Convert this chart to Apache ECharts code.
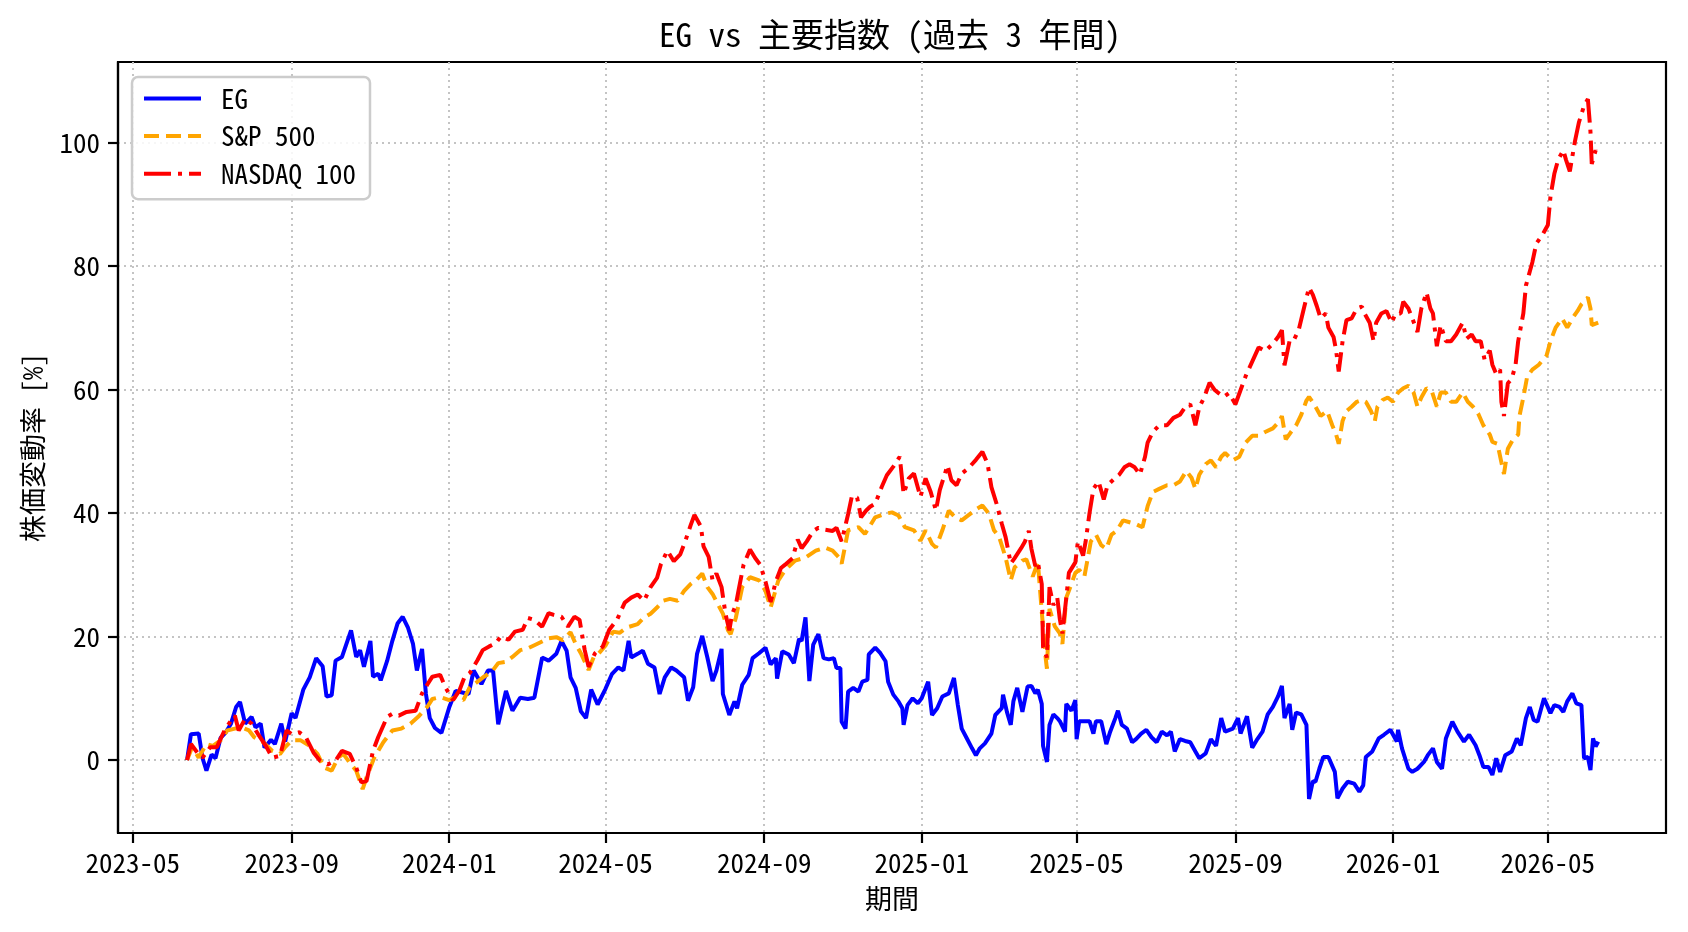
<!DOCTYPE html>
<html>
<head>
<meta charset="utf-8">
<title>EG vs 主要指数</title>
<script src="https://cdn.jsdelivr.net/npm/echarts@6.0.0/dist/echarts.min.js"></script>
<style>
  html, body { margin: 0; padding: 0; background: #fff; }
  #chart { width: 1688px; height: 932px; }
</style>
</head>
<body>
<div id="chart"></div>
<script>
  // 株価変動率 [%] (基準日からの累積)
  const egDates = [
    "2023-06-12","2023-06-15","2023-06-21","2023-06-24","2023-06-27","2023-07-01","2023-07-04","2023-07-08","2023-07-12","2023-07-16",
    "2023-07-20","2023-07-23","2023-07-27","2023-08-01","2023-08-04","2023-08-08","2023-08-11","2023-08-16","2023-08-19","2023-08-24",
    "2023-08-27","2023-09-01","2023-09-04","2023-09-10","2023-09-15","2023-09-20","2023-09-25","2023-09-28","2023-10-02","2023-10-05",
    "2023-10-10","2023-10-17","2023-10-21","2023-10-24","2023-10-27","2023-11-01","2023-11-03","2023-11-07","2023-11-09","2023-11-14",
    "2023-11-18","2023-11-22","2023-11-26","2023-11-30","2023-12-04","2023-12-07","2023-12-11","2023-12-14","2023-12-17","2023-12-21",
    "2023-12-26","2024-01-01","2024-01-06","2024-01-12","2024-01-16","2024-01-20","2024-01-26","2024-01-31","2024-02-04","2024-02-08",
    "2024-02-11","2024-02-14","2024-02-19","2024-02-25","2024-03-02","2024-03-07","2024-03-13","2024-03-18","2024-03-24","2024-03-28",
    "2024-04-01","2024-04-04","2024-04-08","2024-04-12","2024-04-16","2024-04-20","2024-04-25","2024-05-01","2024-05-06","2024-05-11",
    "2024-05-15","2024-05-19","2024-05-21","2024-05-26","2024-05-30","2024-06-03","2024-06-08","2024-06-12","2024-06-16","2024-06-21",
    "2024-06-25","2024-07-01","2024-07-04","2024-07-08","2024-07-11","2024-07-15","2024-07-19","2024-07-23","2024-07-26","2024-07-30",
    "2024-07-31","2024-08-05","2024-08-09","2024-08-11","2024-08-15","2024-08-20","2024-08-23","2024-08-28","2024-09-02","2024-09-06",
    "2024-09-10","2024-09-11","2024-09-15","2024-09-20","2024-09-24","2024-09-28","2024-09-30","2024-10-03","2024-10-06","2024-10-09",
    "2024-10-13","2024-10-17","2024-10-21","2024-10-25","2024-10-27","2024-10-30","2024-10-31","2024-11-03","2024-11-05","2024-11-09",
    "2024-11-13","2024-11-16","2024-11-20","2024-11-21","2024-11-26","2024-11-30","2024-12-04","2024-12-06","2024-12-10","2024-12-14",
    "2024-12-17","2024-12-18","2024-12-21","2024-12-25","2024-12-29","2025-01-01","2025-01-06","2025-01-09","2025-01-13","2025-01-17",
    "2025-01-22","2025-01-26","2025-01-29","2025-02-01","2025-02-05","2025-02-09","2025-02-12","2025-02-15","2025-02-19","2025-02-24",
    "2025-02-27","2025-03-04","2025-03-05","2025-03-08","2025-03-11","2025-03-13","2025-03-16","2025-03-20","2025-03-24","2025-03-27",
    "2025-03-30","2025-04-01","2025-04-04","2025-04-05","2025-04-08","2025-04-10","2025-04-13","2025-04-16","2025-04-18","2025-04-22",
    "2025-04-23","2025-04-27","2025-04-30","2025-05-01","2025-05-03","2025-05-07","2025-05-11","2025-05-14","2025-05-16","2025-05-20",
    "2025-05-24","2025-05-27","2025-05-31","2025-06-02","2025-06-05","2025-06-09","2025-06-13","2025-06-16","2025-06-20","2025-06-24",
    "2025-06-28","2025-07-02","2025-07-06","2025-07-10","2025-07-13","2025-07-16","2025-07-20","2025-07-24","2025-07-28","2025-08-01",
    "2025-08-04","2025-08-09","2025-08-13","2025-08-17","2025-08-21","2025-08-24","2025-08-30","2025-09-03","2025-09-05","2025-09-10",
    "2025-09-14","2025-09-18","2025-09-22","2025-09-26","2025-09-30","2025-10-04","2025-10-07","2025-10-09","2025-10-13","2025-10-15",
    "2025-10-18","2025-10-22","2025-10-26","2025-10-28","2025-10-31","2025-11-02","2025-11-05","2025-11-08","2025-11-12","2025-11-17",
    "2025-11-19","2025-11-23","2025-11-27","2025-12-02","2025-12-06","2025-12-09","2025-12-11","2025-12-16","2025-12-21","2025-12-25",
    "2025-12-30","2026-01-04","2026-01-05","2026-01-08","2026-01-13","2026-01-16","2026-01-20","2026-01-25","2026-01-28","2026-02-01",
    "2026-02-04","2026-02-08","2026-02-11","2026-02-16","2026-02-20","2026-02-25","2026-03-01","2026-03-06","2026-03-09","2026-03-12",
    "2026-03-16","2026-03-19","2026-03-22","2026-03-25","2026-03-29","2026-04-03","2026-04-07","2026-04-10","2026-04-14","2026-04-17",
    "2026-04-20","2026-04-23","2026-04-28","2026-05-03","2026-05-06","2026-05-10","2026-05-13","2026-05-16","2026-05-20","2026-05-23",
    "2026-05-27","2026-05-29","2026-06-01","2026-06-03","2026-06-05","2026-06-07","2026-06-09"
  ]
  const egValues = [
    0, 4.2, 4.3, 0.3, -1.7, 0.9, 0.3, 3.6, 4.5, 5.9,
    8.6, 9.4, 5.9, 7.0, 5.3, 5.9, 2.0, 3.3, 2.6, 5.9,
    3.0, 7.6, 6.8, 11.4, 13.4, 16.5, 15.2, 10.3, 10.5, 16.1,
    16.7, 21.0, 16.7, 17.8, 15.1, 19.3, 13.5, 14.0, 12.9, 16.1,
    19.3, 22.1, 23.2, 21.5, 18.8, 14.5, 18.0, 10.7, 6.8, 5.2,
    4.4, 8.5, 11.2, 10.9, 10.7, 14.5, 12.3, 14.5, 14.5, 5.8,
    8.5, 11.2, 8.0, 10.1, 9.9, 10.1, 16.6, 16.1, 17.2, 19.3,
    17.7, 13.4, 11.7, 7.9, 6.8, 11.4, 9.0, 11.5, 13.9, 15.0,
    14.5, 19.3, 16.6, 17.2, 17.7, 15.6, 15.0, 10.7, 13.4, 15.0,
    14.5, 13.4, 9.6, 11.8, 17.2, 20.1, 16.6, 12.8, 14.5, 18.0,
    10.7, 7.3, 9.5, 8.4, 12.2, 13.8, 16.5, 17.3, 18.2, 15.5,
    16.5, 13.2, 17.6, 17.1, 15.7, 19.6, 19.3, 23.1, 12.8, 18.7,
    20.4, 16.5, 16.3, 16.5, 14.9, 14.9, 6.2, 5.1, 11.1, 11.7,
    11.1, 12.7, 13.0, 17.1, 18.2, 17.3, 16.0, 12.7, 10.6, 9.5,
    8.4, 5.7, 8.9, 10.0, 9.2, 10.0, 12.7, 7.3, 8.4, 10.3,
    10.8, 13.3, 8.9, 5.1, 3.5, 1.9, 0.8, 1.9, 2.7, 4.3,
    7.3, 8.4, 10.6, 7.8, 5.7, 9.5, 11.7, 7.8, 11.9, 12.0,
    10.8, 11.4, 9.1, 2.3, -0.3, 5.7, 7.4, 6.8, 6.3, 4.6,
    9.1, 8.0, 9.7, 3.4, 6.3, 6.3, 6.3, 4.3, 6.3, 6.3,
    2.6, 4.6, 6.8, 8.0, 5.7, 5.1, 2.9, 3.4, 4.3, 4.9,
    3.7, 2.9, 4.6, 4.0, 4.6, 1.4, 3.4, 3.1, 2.9, 1.4,
    0.3, 1.1, 3.4, 2.3, 6.8, 4.6, 5.1, 6.8, 4.3, 7.1,
    2.0, 3.4, 4.6, 7.4, 8.6, 10.3, 12.0, 6.8, 9.1, 4.9,
    7.7, 7.4, 5.7, -6.3, -3.4, -3.5, -1.4, 0.5, 0.5, -1.9,
    -6.2, -4.6, -3.5, -3.8, -5.1, -4.1, 0.5, 1.4, 3.5, 4.1,
    4.9, 3.0, 4.9, 1.9, -1.4, -1.9, -1.4, -0.3, 0.8, 1.9,
    -0.3, -1.4, 3.5, 6.2, 4.6, 3.0, 4.1, 2.4, 0.8, -1.1,
    -1.1, -2.4, 0.3, -1.9, 0.8, 1.4, 3.5, 2.4, 6.8, 8.6,
    6.5, 6.2, 10.0, 7.6, 8.9, 8.6, 7.8, 9.5, 10.8, 9.2,
    8.9, 0.3, 0.5, -1.6, 3.5, 2.2, 3.0
  ]

  const spDates = [
    "2023-06-12","2023-06-16","2023-06-21","2023-06-27","2023-07-02","2023-07-08","2023-07-13","2023-07-19","2023-07-24","2023-07-30",
    "2023-08-03","2023-08-10","2023-08-17","2023-08-23","2023-08-27","2023-09-01","2023-09-08","2023-09-15","2023-09-21","2023-09-26",
    "2023-10-02","2023-10-07","2023-10-11","2023-10-17","2023-10-21","2023-10-26","2023-10-29","2023-11-04","2023-11-11","2023-11-18",
    "2023-11-25","2023-12-02","2023-12-08","2023-12-15","2023-12-19","2023-12-25","2024-01-01","2024-01-06","2024-01-12","2024-01-17",
    "2024-01-23","2024-01-28","2024-02-03","2024-02-08","2024-02-14","2024-02-19","2024-02-25","2024-03-02","2024-03-07","2024-03-13",
    "2024-03-18","2024-03-24","2024-03-29","2024-04-04","2024-04-08","2024-04-12","2024-04-18","2024-04-22","2024-04-26","2024-05-01",
    "2024-05-07","2024-05-12","2024-05-18","2024-05-26","2024-05-31","2024-06-05","2024-06-10","2024-06-15","2024-06-20","2024-06-26",
    "2024-07-01","2024-07-06","2024-07-11","2024-07-15","2024-07-19","2024-07-23","2024-07-27","2024-07-31","2024-08-04","2024-08-06",
    "2024-08-10","2024-08-15","2024-08-21","2024-08-28","2024-09-02","2024-09-06","2024-09-12","2024-09-17","2024-09-25","2024-10-03",
    "2024-10-11","2024-10-18","2024-10-24","2024-10-29","2024-10-31","2024-11-05","2024-11-13","2024-11-18","2024-11-26","2024-12-04",
    "2024-12-09","2024-12-14","2024-12-19","2024-12-26","2024-12-31","2025-01-04","2025-01-09","2025-01-12","2025-01-17","2025-01-22",
    "2025-01-27","2025-02-01","2025-02-06","2025-02-13","2025-02-17","2025-02-22","2025-02-26","2025-03-02","2025-03-07","2025-03-11",
    "2025-03-14","2025-03-20","2025-03-23","2025-03-28","2025-04-01","2025-04-04","2025-04-07","2025-04-08","2025-04-10","2025-04-14",
    "2025-04-18","2025-04-20","2025-04-23","2025-04-25","2025-04-30","2025-05-03","2025-05-07","2025-05-10","2025-05-12","2025-05-16",
    "2025-05-20","2025-05-24","2025-05-28","2025-06-01","2025-06-06","2025-06-11","2025-06-16","2025-06-21","2025-06-25","2025-06-29",
    "2025-07-04","2025-07-10","2025-07-15","2025-07-20","2025-07-25","2025-07-29","2025-08-01","2025-08-04","2025-08-09","2025-08-13",
    "2025-08-17","2025-08-21","2025-08-24","2025-08-30","2025-09-04","2025-09-09","2025-09-14","2025-09-19","2025-09-24","2025-09-30",
    "2025-10-05","2025-10-07","2025-10-10","2025-10-14","2025-10-18","2025-10-22","2025-10-26","2025-10-28","2025-11-01","2025-11-06",
    "2025-11-11","2025-11-15","2025-11-18","2025-11-20","2025-11-23","2025-11-26","2025-11-30","2025-12-04","2025-12-08","2025-12-11",
    "2025-12-15","2025-12-18","2025-12-20","2025-12-24","2025-12-28","2026-01-01","2026-01-05","2026-01-09","2026-01-13","2026-01-17",
    "2026-01-20","2026-01-23","2026-01-27","2026-01-31","2026-02-04","2026-02-07","2026-02-11","2026-02-15","2026-02-19","2026-02-24",
    "2026-02-28","2026-03-04","2026-03-08","2026-03-12","2026-03-17","2026-03-19","2026-03-23","2026-03-26","2026-03-28","2026-03-31",
    "2026-04-04","2026-04-08","2026-04-09","2026-04-12","2026-04-15","2026-04-19","2026-04-24","2026-04-30","2026-05-03","2026-05-07",
    "2026-05-12","2026-05-16","2026-05-20","2026-05-24","2026-05-27","2026-06-01","2026-06-03","2026-06-04","2026-06-09"
  ]
  const spValues = [
    0, 2.1, 0.4, 2.6, 2.3, 3.2, 4.8, 5.1, 5.3, 4.8,
    3.7, 2.9, 1.5, 1.0, 2.1, 3.2, 3.2, 2.3, 1.0, -1.2,
    -1.7, 0.4, 1.0, -0.7, -1.7, -4.7, -2.8, 0.4, 2.9, 4.8,
    5.1, 5.9, 7.0, 8.6, 9.9, 10.2, 9.7, 10.2, 9.7, 11.8,
    12.7, 13.5, 14.3, 15.7, 15.9, 16.7, 17.8, 18.1, 18.6, 19.2,
    19.7, 19.9, 19.4, 20.7, 18.8, 17.3, 14.6, 16.7, 17.3, 18.5,
    20.8, 20.6, 21.5, 22.0, 23.1, 23.7, 24.7, 25.8, 26.1, 25.8,
    27.4, 28.5, 29.3, 30.2, 28.0, 26.9, 25.3, 23.7, 21.0, 20.4,
    23.0, 28.0, 29.6, 29.1, 27.4, 24.7, 29.1, 30.7, 32.3, 32.8,
    33.9, 34.4, 33.9, 32.8, 31.8, 37.2, 37.7, 36.6, 39.3, 39.9,
    40.1, 39.6, 37.7, 37.2, 35.5, 37.2, 35.0, 34.4, 37.2, 40.4,
    39.3, 38.8, 39.6, 40.7, 41.2, 39.9, 37.2, 36.1, 32.8, 29.1,
    31.2, 32.3, 32.5, 29.7, 32.0, 24.0, 16.6, 14.8, 24.5, 21.7,
    20.5, 18.8, 26.3, 27.4, 30.3, 30.8, 29.7, 33.1, 35.4, 36.5,
    34.8, 34.2, 36.5, 37.1, 38.8, 38.5, 38.2, 37.7, 41.1, 43.4,
    43.9, 44.5, 44.5, 45.1, 46.8, 45.7, 43.9, 46.2, 47.9, 48.5,
    47.4, 49.1, 49.7, 48.5, 49.1, 51.4, 52.5, 52.5, 53.1, 53.7,
    54.8, 55.7, 51.9, 53.1, 54.2, 55.9, 58.2, 58.8, 57.6, 55.7,
    56.5, 54.2, 52.7, 51.2, 54.9, 56.5, 57.2, 58.0, 58.3, 58.0,
    56.5, 54.9, 57.2, 58.3, 58.7, 58.0, 59.5, 60.2, 60.6, 59.5,
    57.2, 58.7, 60.2, 59.8, 57.2, 59.5, 59.5, 58.0, 58.0, 59.5,
    58.0, 57.2, 56.1, 54.2, 52.7, 51.5, 51.2, 48.2, 46.3, 50.4,
    51.9, 52.7, 55.7, 58.7, 62.1, 63.2, 64.0, 65.5, 67.8, 70.0,
    71.5, 70.0, 71.5, 72.7, 73.8, 74.9, 73.1, 70.4, 70.8
  ]

  const ndDates = [
    "2023-06-12","2023-06-15","2023-06-20","2023-06-24","2023-06-30","2023-07-05","2023-07-11","2023-07-16","2023-07-19","2023-07-22",
    "2023-07-27","2023-08-01","2023-08-06","2023-08-12","2023-08-17","2023-08-23","2023-08-28","2023-09-01","2023-09-07","2023-09-12",
    "2023-09-18","2023-09-23","2023-09-29","2023-10-05","2023-10-10","2023-10-16","2023-10-21","2023-10-25","2023-10-29","2023-11-03",
    "2023-11-07","2023-11-14","2023-11-18","2023-11-23","2023-11-29","2023-12-06","2023-12-11","2023-12-15","2023-12-19","2023-12-25",
    "2023-12-29","2024-01-04","2024-01-09","2024-01-13","2024-01-17","2024-01-23","2024-01-27","2024-02-01","2024-02-06","2024-02-10",
    "2024-02-16","2024-02-21","2024-02-27","2024-03-02","2024-03-07","2024-03-13","2024-03-18","2024-03-22","2024-03-28","2024-04-02",
    "2024-04-07","2024-04-11","2024-04-15","2024-04-18","2024-04-23","2024-04-29","2024-05-04","2024-05-10","2024-05-16","2024-05-21",
    "2024-05-26","2024-05-31","2024-06-05","2024-06-10","2024-06-13","2024-06-18","2024-06-23","2024-06-28","2024-07-02","2024-07-06",
    "2024-07-09","2024-07-14","2024-07-16","2024-07-20","2024-07-23","2024-07-26","2024-07-30","2024-08-02","2024-08-05","2024-08-07",
    "2024-08-10","2024-08-12","2024-08-16","2024-08-21","2024-08-25","2024-08-29","2024-09-02","2024-09-06","2024-09-10","2024-09-14",
    "2024-09-17","2024-09-23","2024-09-27","2024-09-30","2024-10-04","2024-10-09","2024-10-13","2024-10-18","2024-10-24","2024-10-27",
    "2024-10-31","2024-11-05","2024-11-08","2024-11-12","2024-11-15","2024-11-19","2024-11-22","2024-11-26","2024-12-01","2024-12-05",
    "2024-12-10","2024-12-15","2024-12-18","2024-12-22","2024-12-26","2024-12-31","2025-01-04","2025-01-08","2025-01-12","2025-01-15",
    "2025-01-21","2025-01-24","2025-01-28","2025-02-01","2025-02-06","2025-02-12","2025-02-17","2025-02-21","2025-02-24","2025-02-28",
    "2025-03-04","2025-03-07","2025-03-11","2025-03-14","2025-03-19","2025-03-22","2025-03-25","2025-03-27","2025-03-30","2025-04-01",
    "2025-04-04","2025-04-05","2025-04-08","2025-04-10","2025-04-13","2025-04-16","2025-04-18","2025-04-20","2025-04-23","2025-04-25",
    "2025-04-30","2025-05-02","2025-05-06","2025-05-08","2025-05-11","2025-05-14","2025-05-18","2025-05-22","2025-05-25","2025-05-31",
    "2025-06-03","2025-06-07","2025-06-11","2025-06-15","2025-06-19","2025-06-23","2025-06-25","2025-06-29","2025-07-04","2025-07-10",
    "2025-07-15","2025-07-20","2025-07-24","2025-07-28","2025-08-01","2025-08-04","2025-08-08","2025-08-12","2025-08-16","2025-08-19",
    "2025-08-23","2025-08-27","2025-09-01","2025-09-05","2025-09-09","2025-09-14","2025-09-19","2025-09-24","2025-09-30","2025-10-04",
    "2025-10-07","2025-10-09","2025-10-13","2025-10-16","2025-10-20","2025-10-24","2025-10-28","2025-10-31","2025-11-03","2025-11-06",
    "2025-11-10","2025-11-12","2025-11-16","2025-11-18","2025-11-20","2025-11-23","2025-11-26","2025-11-30","2025-12-04","2025-12-08",
    "2025-12-10","2025-12-14","2025-12-17","2025-12-19","2025-12-23","2025-12-27","2025-12-31","2026-01-03","2026-01-07","2026-01-09",
    "2026-01-13","2026-01-16","2026-01-20","2026-01-23","2026-01-27","2026-01-30","2026-02-01","2026-02-04","2026-02-07","2026-02-11",
    "2026-02-15","2026-02-19","2026-02-24","2026-02-27","2026-03-03","2026-03-06","2026-03-10","2026-03-13","2026-03-17","2026-03-19",
    "2026-03-22","2026-03-25","2026-03-26","2026-03-28","2026-03-31","2026-04-03","2026-04-06","2026-04-08","2026-04-12","2026-04-14",
    "2026-04-17","2026-04-19","2026-04-22","2026-04-27","2026-05-01","2026-05-03","2026-05-06","2026-05-09","2026-05-13","2026-05-15",
    "2026-05-18","2026-05-22","2026-05-25","2026-05-29","2026-06-01","2026-06-03","2026-06-04","2026-06-07","2026-06-09"
  ]
  const ndValues = [
    0, 2.6, 1.2, 0.4, 2.1, 2.1, 4.8, 6.4, 7.2, 4.8,
    6.7, 5.9, 4.2, 2.3, 0.4, 0.7, 4.8, 4.2, 4.5, 3.7,
    1.2, -0.1, -0.7, -0.1, 1.5, 1.0, -1.2, -3.6, -3.4, 1.5,
    3.7, 7.0, 7.5, 7.2, 7.8, 8.0, 10.8, 12.2, 13.5, 13.8,
    11.8, 9.7, 11.3, 13.5, 14.1, 16.2, 17.8, 18.4, 18.9, 20.0,
    19.5, 20.8, 21.1, 23.0, 22.7, 21.6, 23.8, 23.5, 23.2, 21.6,
    23.2, 22.7, 17.8, 15.1, 17.3, 18.4, 21.1, 22.7, 25.5, 26.3,
    26.8, 25.8, 28.0, 29.5, 31.7, 33.9, 32.2, 33.3, 35.5, 38.0,
    39.7, 37.8, 34.6, 32.9, 29.1, 30.2, 28.0, 23.7, 21.0, 23.5,
    25.1, 27.3, 31.6, 34.1, 32.7, 31.6, 28.9, 25.6, 28.9, 31.1,
    31.6, 32.7, 35.7, 34.3, 35.4, 37.1, 37.6, 37.3, 37.1, 37.6,
    35.4, 39.8, 42.8, 42.5, 39.3, 40.4, 41.0, 41.5, 44.2, 46.1,
    47.5, 49.1, 43.1, 45.6, 46.4, 42.6, 45.6, 43.4, 40.4, 43.7,
    47.7, 45.3, 44.5, 46.4, 47.2, 48.6, 49.9, 48.0, 44.2, 41.5,
    38.3, 36.1, 31.8, 32.7, 34.3, 35.4, 37.1, 34.2, 31.4, 32.0,
    28.5, 18.3, 16.6, 28.0, 25.1, 26.3, 22.8, 20.5, 26.3, 30.3,
    32.0, 35.4, 33.1, 35.4, 40.0, 43.9, 45.1, 42.2, 44.5, 45.7,
    46.2, 47.4, 47.9, 47.4, 46.2, 49.1, 51.4, 53.1, 54.2, 54.2,
    55.4, 55.9, 57.1, 57.6, 54.2, 57.1, 58.8, 61.1, 59.9, 59.4,
    58.8, 59.4, 57.6, 59.9, 62.2, 64.5, 66.8, 66.2, 67.4, 68.5,
    69.6, 63.9, 67.9, 67.9, 69.6, 73.1, 76.5, 75.3, 73.5, 71.5,
    72.3, 70.0, 68.5, 66.3, 62.9, 67.8, 71.2, 71.5, 73.1, 73.4,
    72.3, 70.8, 67.8, 70.8, 72.3, 72.7, 70.8, 72.3, 72.3, 74.2,
    73.1, 71.5, 69.3, 73.1, 75.7, 73.1, 72.3, 67.0, 70.4, 67.8,
    67.8, 68.9, 70.8, 68.2, 68.9, 67.8, 67.8, 64.8, 66.3, 64.0,
    62.5, 63.2, 58.0, 55.7, 61.0, 61.7, 64.0, 67.8, 72.3, 76.8,
    79.1, 80.6, 83.6, 85.1, 86.6, 91.2, 94.9, 97.2, 98.7, 97.2,
    95.3, 100.2, 103.2, 105.9, 107.0, 101.7, 96.5, 98.7, 97.6
  ]

  const xTicks = ["2023-05-01","2023-09-01","2024-01-01","2024-05-01","2024-09-01","2025-01-01","2025-05-01","2025-09-01","2026-01-01","2026-05-01"]
  const yTicks = [0, 20, 40, 60, 80, 100]

  const font = "'Noto Sans Mono CJK JP', 'Noto Sans CJK JP', sans-serif"

  function ts(s) {
    return new Date(s + "T00:00:00").getTime()
  }

  function pairs(dates, values) {
    return dates.map((d, i) => [ts(d), values[i]])
  }

  function ym(v) {
    const d = new Date(v)
    return d.getFullYear() + "-" + String(d.getMonth() + 1).padStart(2, "0")
  }

  const gridLine = {
    show: true,
    lineStyle: { color: "#c4c4c4", width: 2, type: [2, 4] },
  }

  const option = {
    animation: false,
    backgroundColor: "#fff",
    title: {
      text: "EG vs 主要指数 (過去 3 年間)",
      left: 659,
      top: 18,
      padding: 0,
      textStyle: { fontFamily: font, fontSize: 33, fontWeight: "normal", color: "#000" },
    },
    legend: {
      orient: "vertical",
      left: 132,
      top: 77,
      padding: [8, 14, 12, 10],
      itemWidth: 57,
      itemHeight: 14,
      itemGap: 10.6,
      backgroundColor: "rgba(255,255,255,0.85)",
      borderColor: "#cccccc",
      borderWidth: 2.5,
      borderRadius: 6,
      itemStyle: { opacity: 0 },
      lineStyle: { width: 4 },
      textStyle: { fontFamily: font, fontSize: 27, color: "#000", lineHeight: 27, padding: [0, 0, 0, 15] },
      data: ["EG", "S&P 500", "NASDAQ 100"],
    },
    grid: {
      left: 118,
      right: 22,
      top: 62,
      bottom: 99,
      show: true,
      borderColor: "#000",
      borderWidth: 2.2,
      backgroundColor: "transparent",
    },
    xAxis: {
      type: "value",
      min: ts("2023-04-19") + 12 * 3600e3,
      max: ts("2026-07-31") + 12 * 3600e3,
      name: "期間",
      nameLocation: "middle",
      nameGap: 52,
      nameTextStyle: { fontFamily: font, fontSize: 27, color: "#000" },
      axisLine: { show: true, onZero: false, lineStyle: { color: "#000", width: 2.2 } },
      axisTick: { show: true, length: 10, lineStyle: { color: "#000", width: 2.2 }, customValues: xTicks.map(ts) },
      axisLabel: {
        customValues: xTicks.map(ts),
        formatter: ym,
        margin: 16,
        fontFamily: font,
        fontSize: 27,
        color: "#000",
        showMinLabel: true,
        showMaxLabel: true,
      },
      splitLine: gridLine,
    },
    yAxis: {
      type: "value",
      min: -11.8,
      max: 113,
      name: "株価変動率 [%]",
      nameLocation: "middle",
      nameGap: 72,
      nameTextStyle: { fontFamily: font, fontSize: 27, color: "#000" },
      axisLine: { show: true, onZero: false, lineStyle: { color: "#000", width: 2.2 } },
      axisTick: { show: true, length: 10, lineStyle: { color: "#000", width: 2.2 }, customValues: yTicks },
      axisLabel: { customValues: yTicks, margin: 18, fontFamily: font, fontSize: 27, color: "#000" },
      splitLine: gridLine,
    },
    series: [
      {
        name: "EG",
        type: "line",
        symbol: "none",
        data: pairs(egDates, egValues),
        lineStyle: { color: "#0000ff", width: 4 },
        itemStyle: { color: "#0000ff" },
      },
      {
        name: "S&P 500",
        type: "line",
        symbol: "none",
        data: pairs(spDates, spValues),
        lineStyle: { color: "#ffa500", width: 4, type: [15, 7] },
        itemStyle: { color: "#ffa500" },
      },
      {
        name: "NASDAQ 100",
        type: "line",
        symbol: "none",
        data: pairs(ndDates, ndValues),
        lineStyle: { color: "#ff0000", width: 4, type: [27, 7, 4, 7] },
        itemStyle: { color: "#ff0000" },
      },
    ],
  }

  const myChart = echarts.init(document.getElementById("chart"))
  myChart.setOption(option)
</script>
</body>
</html>
